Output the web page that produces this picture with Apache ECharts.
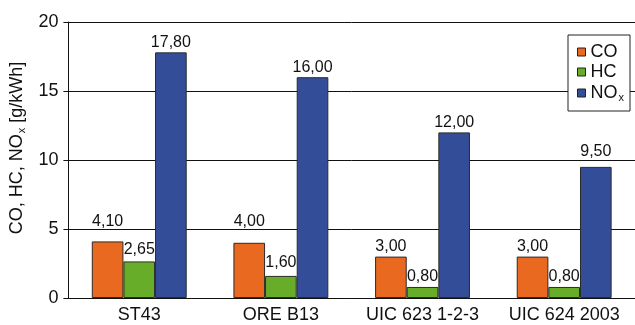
<!DOCTYPE html>
<html>
<head>
<meta charset="utf-8">
<script src="https://cdn.jsdelivr.net/npm/echarts@6/dist/echarts.min.js"></script>
<style>
  html, body { margin: 0; padding: 0; background: #fff; }
  #chart { width: 635px; height: 325px; }
</style>
</head>
<body>
<div id="chart"></div>
<script>
// Emission limits per standard, g/kWh
const categories = ['ST43', 'ORE B13', 'UIC 623 1-2-3', 'UIC 624 2003'];
const coValues = [4.10, 4.00, 3.00, 3.00];
const hcValues = [2.65, 1.60, 0.80, 0.80];
const noxValues = [17.80, 16.00, 12.00, 9.50];

// Extra lift of each value label above its bar (px), so neighbouring labels don't collide
const coLabelLift = [12, 13, 2, 2];
const hcLabelLift = [4, 5, 2, 2];
const noxLabelLift = [2, 2, 2, 7];

const FONT = 'Liberation Sans, Arial, sans-serif';
const INK = '#111';
const fmt = v => v.toFixed(2).replace('.', ',');

function barSeries(name, values, lifts, color) {
  return {
    name: name,
    type: 'bar',
    data: values.map((v, i) => ({ value: v, label: { distance: lifts[i] } })),
    barGap: '0%',
    barCategoryGap: '33%',
    itemStyle: { color: color, borderColor: '#2a2a2a', borderWidth: 1 },
    label: {
      show: true,
      position: 'top',
      color: INK,
      fontFamily: FONT,
      fontSize: 16,
      formatter: p => fmt(p.value)
    }
  };
}

const chart = echarts.init(document.getElementById('chart'));
chart.setOption({
  animation: false,
  backgroundColor: '#fff',
  grid: { left: 68, right: 0, top: 22, bottom: 27 },
  legend: {
    orient: 'vertical',
    right: 5,
    top: 35,
    padding: [8, 6, 8, 9],
    itemGap: 2,
    itemWidth: 8,
    itemHeight: 8,
    backgroundColor: '#fff',
    borderColor: '#222',
    borderWidth: 1,
    borderRadius: 0,
    icon: 'rect',
    itemStyle: { borderColor: '#222', borderWidth: 1 },
    textStyle: {
      fontFamily: FONT,
      fontSize: 18,
      lineHeight: 18,
      color: INK,
      rich: {
        m: { fontFamily: FONT, fontSize: 18, lineHeight: 18, color: INK },
        s: { fontFamily: FONT, fontSize: 11, lineHeight: 18, color: INK, padding: [9, 0, 0, 1] }
      }
    },
    formatter: name => name === 'NOx' ? '{m|NO}{s|x}' : name
  },
  xAxis: {
    type: 'category',
    data: categories,
    axisLine: { lineStyle: { color: INK, width: 1 } },
    axisTick: { show: false },
    axisLabel: { interval: 0, color: INK, fontFamily: FONT, fontSize: 18, margin: 8 }
  },
  yAxis: {
    type: 'value',
    min: 0,
    max: 20,
    interval: 5,
    name: '{m|CO, HC, NO}{s|x}{m| [g/kWh]}',
    nameLocation: 'middle',
    nameGap: 35,
    nameRotate: 90,
    nameTextStyle: {
      padding: [0, 0, 0, 24],
      rich: {
        m: { fontFamily: FONT, fontSize: 18, color: INK },
        s: { fontFamily: FONT, fontSize: 11, color: INK, padding: [10, 0, 0, 1] }
      }
    },
    axisLine: { show: true, lineStyle: { color: INK, width: 1 } },
    axisTick: { show: true, length: 5, lineStyle: { color: INK } },
    splitLine: { show: true, lineStyle: { color: INK, width: 1 } },
    axisLabel: { color: INK, fontFamily: FONT, fontSize: 18, margin: 10 }
  },
  series: [
    barSeries('CO', coValues, coLabelLift, '#e8691f'),
    barSeries('HC', hcValues, hcLabelLift, '#68ad2a'),
    barSeries('NOx', noxValues, noxLabelLift, '#344d98')
  ]
});
</script>
</body>
</html>
